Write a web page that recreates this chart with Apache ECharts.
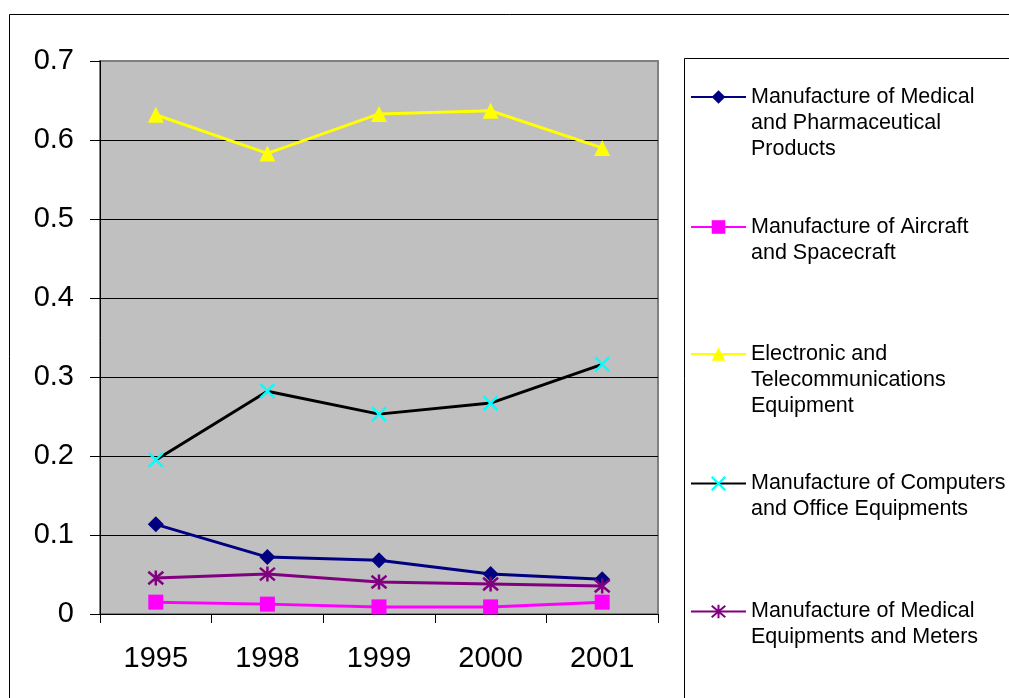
<!DOCTYPE html>
<html>
<head>
<meta charset="utf-8">
<script src="https://cdn.jsdelivr.net/npm/echarts@6/dist/echarts.min.js"></script>
<style>
  html, body { margin: 0; padding: 0; background: #fff; }
  #container { width: 1009px; height: 698px; }
</style>
</head>
<body>
<div id="container"></div>
<script>
const years = ['1995', '1998', '1999', '2000', '2001']
const medicalPharma = [0.1135, 0.072, 0.068, 0.0505, 0.044]
const aircraft = [0.015, 0.0125, 0.009, 0.009, 0.015]
const electronic = [0.632, 0.583, 0.633, 0.637, 0.590]
const computers = [0.195, 0.282, 0.253, 0.267, 0.316]
const medicalEquip = [0.0455, 0.0505, 0.0405, 0.038, 0.0355]
const yTicks = [0, 0.1, 0.2, 0.3, 0.4, 0.5, 0.6, 0.7]

const names = [
  'Manufacture of Medical and Pharmaceutical Products',
  'Manufacture of Aircraft and Spacecraft',
  'Electronic and Telecommunications Equipment',
  'Manufacture of Computers and Office Equipments',
  'Manufacture of Medical Equipments and Meters'
]
const legendLines = [
  ['Manufacture of Medical', 'and Pharmaceutical', 'Products'],
  ['Manufacture of Aircraft', 'and Spacecraft'],
  ['Electronic and', 'Telecommunications', 'Equipment'],
  ['Manufacture of Computers', 'and Office Equipments'],
  ['Manufacture of Medical', 'Equipments and Meters']
]

const font = "'Liberation Sans', Arial, sans-serif"
const lineH = 26
// y of first text line of each legend entry
const legendY = [97, 227, 354, 483.5, 611.5]

const crossPath = 'path://M0,0L10,10M10,0L0,10'
const starPath = 'path://M0,0L10,10M10,0L0,10M5,-1L5,11'

// one legend per entry so the icon sits on the first text line
// (blank lines above keep the first line at the vertical centre)
const legends = names.map((name, i) => {
  const n = legendLines[i].length
  const text = new Array(n - 1).fill('').concat(legendLines[i]).join('\n')
  return {
    orient: 'vertical',
    left: 690,
    top: legendY[i] - (2 * n - 1) * lineH / 2,
    padding: 0,
    itemWidth: 55,
    itemHeight: 17,
    data: [name],
    selectedMode: false,
    formatter: () => text,
    textStyle: {
      fontFamily: font,
      fontSize: 21.5,
      color: '#000',
      lineHeight: lineH
    }
  }
})

const option = {
  animation: false,
  backgroundColor: '#fff',
  graphic: [
    {
      type: 'rect',
      shape: { x: 9.5, y: 14.5, width: 1100, height: 800 },
      style: { fill: 'none', stroke: '#000', lineWidth: 1 },
      z: -1
    },
    {
      type: 'rect',
      shape: { x: 684.5, y: 58.5, width: 400, height: 700 },
      style: { fill: 'none', stroke: '#000', lineWidth: 1 },
      z: -1
    }
  ],
  legend: legends,
  grid: {
    left: 100,
    right: 351,
    top: 61,
    bottom: 84,
    show: true,
    backgroundColor: '#c0c0c0',
    borderColor: '#808080',
    borderWidth: 2,
    outerBoundsMode: 'none'
  },
  xAxis: {
    type: 'category',
    data: years,
    boundaryGap: true,
    axisLine: { lineStyle: { color: '#000', width: 1 } },
    axisTick: { show: true, length: 9, lineStyle: { color: '#000' } },
    axisLabel: { fontFamily: font, fontSize: 29, color: '#000', margin: 30 },
    splitLine: { show: false }
  },
  yAxis: {
    type: 'value',
    min: 0,
    max: 0.7,
    interval: 0.1,
    axisLine: { show: true, lineStyle: { color: '#000', width: 1 } },
    axisTick: { show: true, length: 10, lineStyle: { color: '#000' } },
    axisLabel: {
      fontFamily: font,
      fontSize: 29,
      color: '#000',
      margin: 26,
      formatter: v => String(yTicks.find(t => Math.abs(t - v) < 1e-9) ?? v)
    },
    splitLine: { show: true, showMaxLine: false, lineStyle: { color: '#000', width: 1 } }
  },
  series: [
    {
      name: names[0],
      type: 'line',
      data: medicalPharma,
      symbol: 'diamond',
      symbolSize: 16,
      lineStyle: { color: '#000080', width: 3 },
      itemStyle: { color: '#000080' }
    },
    {
      name: names[1],
      type: 'line',
      data: aircraft,
      symbol: 'rect',
      symbolSize: 15,
      lineStyle: { color: '#ff00ff', width: 3 },
      itemStyle: { color: '#ff00ff' }
    },
    {
      name: names[2],
      type: 'line',
      data: electronic,
      symbol: 'triangle',
      symbolSize: 16,
      lineStyle: { color: '#ffff00', width: 3 },
      itemStyle: { color: '#ffff00' }
    },
    {
      name: names[3],
      type: 'line',
      data: computers,
      symbol: crossPath,
      symbolSize: 14,
      lineStyle: { color: '#000', width: 3 },
      itemStyle: { color: '#00ffff', borderColor: '#00ffff', borderWidth: 2.5 }
    },
    {
      name: names[4],
      type: 'line',
      data: medicalEquip,
      symbol: starPath,
      symbolSize: 15,
      lineStyle: { color: '#800080', width: 3 },
      itemStyle: { color: '#800080', borderColor: '#800080', borderWidth: 2.5 }
    }
  ]
}

const dom = document.getElementById('container')
const myChart = echarts.init(dom)
myChart.setOption(option)
</script>
</body>
</html>
